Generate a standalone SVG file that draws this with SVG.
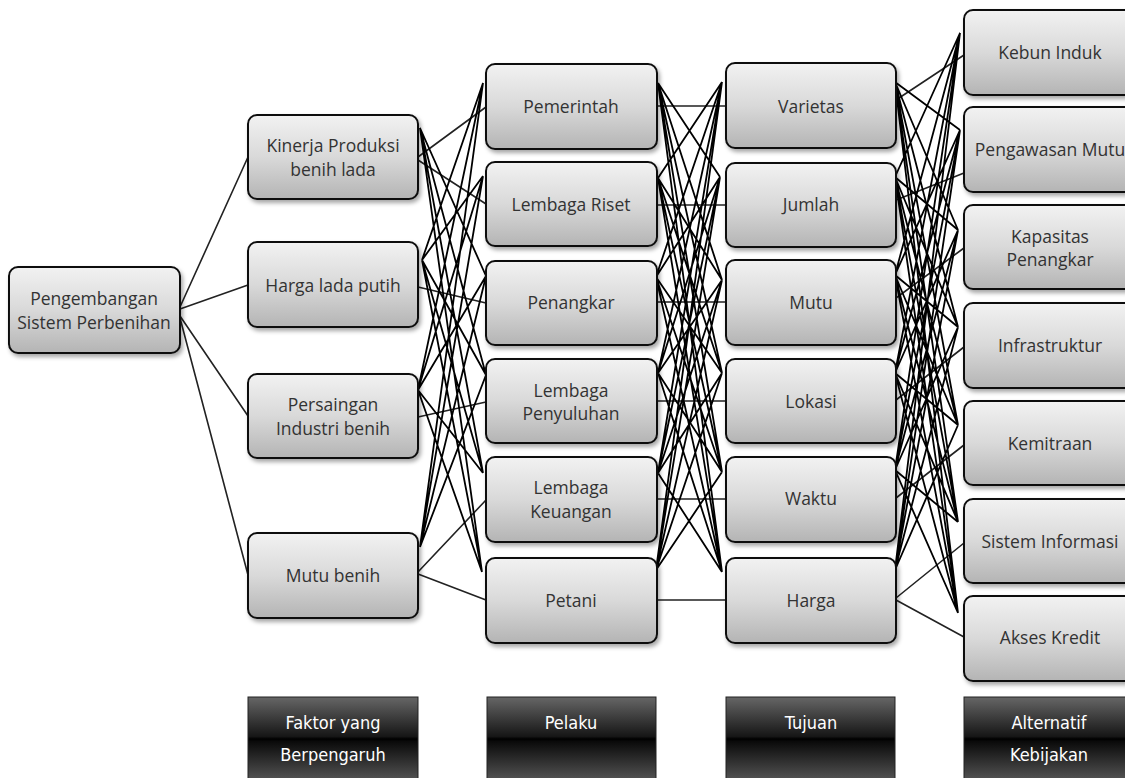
<svg xmlns="http://www.w3.org/2000/svg" width="1125" height="778" viewBox="0 0 1125 778">
<defs>
<linearGradient id="g" x1="0" y1="0" x2="0" y2="1">
<stop offset="0" stop-color="#f2f2f2"/>
<stop offset="0.5" stop-color="#d9d9d9"/>
<stop offset="1" stop-color="#b4b4b4"/>
</linearGradient>
<linearGradient id="hg" x1="0" y1="0" x2="0" y2="1">
<stop offset="0" stop-color="#666"/>
<stop offset="0.47" stop-color="#161616"/>
<stop offset="0.5" stop-color="#000"/>
<stop offset="0.53" stop-color="#0a0a0a"/>
<stop offset="1" stop-color="#555"/>
</linearGradient>
<filter id="sh" x="-10%" y="-10%" width="125%" height="130%">
<feDropShadow dx="2" dy="3" stdDeviation="2" flood-color="#000" flood-opacity="0.35"/>
</filter>
</defs>
<style>
.n rect{fill:url(#g);stroke:#111;stroke-width:2;filter:url(#sh)}
.n text{font-family:"Open Sans","Noto Sans",sans-serif;font-size:17.5px;fill:#333;text-anchor:middle;dominant-baseline:central}
.h rect{fill:url(#hg);stroke:#222;stroke-width:1}
.h text{font-family:"DejaVu Sans Condensed","DejaVu Sans",sans-serif;font-stretch:condensed;font-size:18px;fill:#fff;text-anchor:middle;dominant-baseline:central}
#connectors path{fill:none;stroke:#000;stroke-width:1.8}
#connectors .p{stroke:#222;stroke-width:1.6}
</style>
<rect width="1125" height="778" fill="#fff"/>
<g id="connectors">
<path class="p" d="M180,307L248,157M180,309L248,285M180,316L248,416M180,318L248,575"/>
<path class="p" d="M418,157L486,107M418,160L486,204M418,287L486,303M418,417L486,402M418,572L486,500M418,574L486,600"/>
<path d="M420,128L486,276M420,128L486,375M420,128L483,473M420,128L482,572
M422,260L483,83M422,260L483,176M422,260L486,375M422,260L483,473M422,260L482,572
M418,390L483,83M418,390L483,176M418,390L486,276M418,390L483,473M418,390L482,572
M420,547L483,83M420,547L483,176M420,547L486,276M420,547L486,375"/>
<path class="p" d="M657,106L726,106M657,205L726,205M657,302L726,302M657,401L726,401M657,499L726,499M657,600L726,600"/>
<path d="M658,83L720,177M658,83L722,280M658,83L722,373M658,83L722,472M658,83L722,572
M658,178L722,82M658,178L722,280M658,178L722,373M658,178L722,472M658,178L722,572
M656,277L722,82M656,277L720,177M656,277L722,373M656,277L722,472M656,277L722,572
M658,373L722,82M658,373L720,177M658,373L722,280M658,373L722,472M658,373L722,572
M658,473L722,82M658,473L720,177M658,473L722,280M658,473L722,373M658,473L722,572
M656,570L722,82M656,570L720,177M656,570L722,280M656,570L722,373M656,570L722,472"/>
<path class="p" d="M896,100L964,55M896,200L964,173M896,298L964,248M896,400L964,347M896,498L964,445M896,598L964,543M896,600L964,637"/>
<path d="M895,82L960,130M895,82L958,230M895,82L958,327M895,82L958,425M895,82L958,522M895,82L958,613
M895,177L960,33M895,177L958,230M895,177L958,327M895,177L958,425M895,177L958,522M895,177L958,613
M895,275L960,33M895,275L960,130M895,275L958,327M895,275L958,425M895,275L958,522M895,275L958,613
M895,373L960,33M895,373L960,130M895,373L958,230M895,373L958,425M895,373L958,522M895,373L958,613
M895,470L960,33M895,470L960,130M895,470L958,230M895,470L958,327M895,470L958,522M895,470L958,613
M895,570L960,33M895,570L960,130M895,570L958,230M895,570L958,327M895,570L958,425"/>
</g>
<g id="root" class="n"><rect x="9" y="267" width="171" height="86" rx="9"/><text x="94" y="298">Pengembangan</text><text x="94" y="322">Sistem Perbenihan</text></g>
<g id="f-kinerja" class="n"><rect x="248" y="115" width="170" height="84" rx="9"/><text x="333" y="145">Kinerja Produksi</text><text x="333" y="169">benih lada</text></g>
<g id="f-harga" class="n"><rect x="248" y="242" width="170" height="85" rx="9"/><text x="333" y="285">Harga lada putih</text></g>
<g id="f-persaingan" class="n"><rect x="248" y="374" width="170" height="84" rx="9"/><text x="333" y="404">Persaingan</text><text x="333" y="428">Industri benih</text></g>
<g id="f-mutu" class="n"><rect x="248" y="533" width="170" height="85" rx="9"/><text x="333" y="575">Mutu benih</text></g>
<g id="a-pemerintah" class="n"><rect x="486" y="64" width="171" height="85" rx="9"/><text x="571" y="106">Pemerintah</text></g>
<g id="a-riset" class="n"><rect x="486" y="162" width="171" height="84" rx="9"/><text x="571" y="204">Lembaga Riset</text></g>
<g id="a-penangkar" class="n"><rect x="486" y="261" width="171" height="84" rx="9"/><text x="571" y="302">Penangkar</text></g>
<g id="a-penyuluhan" class="n"><rect x="486" y="359" width="171" height="84" rx="9"/><text x="571" y="390">Lembaga</text><text x="571" y="413">Penyuluhan</text></g>
<g id="a-keuangan" class="n"><rect x="486" y="457" width="171" height="85" rx="9"/><text x="571" y="487">Lembaga</text><text x="571" y="511">Keuangan</text></g>
<g id="a-petani" class="n"><rect x="486" y="558" width="171" height="85" rx="9"/><text x="571" y="600">Petani</text></g>
<g id="t-varietas" class="n"><rect x="726" y="63" width="170" height="85" rx="9"/><text x="811" y="106">Varietas</text></g>
<g id="t-jumlah" class="n"><rect x="726" y="163" width="170" height="84" rx="9"/><text x="811" y="204">Jumlah</text></g>
<g id="t-mutu" class="n"><rect x="726" y="260" width="170" height="85" rx="9"/><text x="811" y="302">Mutu</text></g>
<g id="t-lokasi" class="n"><rect x="726" y="359" width="170" height="84" rx="9"/><text x="811" y="401">Lokasi</text></g>
<g id="t-waktu" class="n"><rect x="726" y="457" width="170" height="85" rx="9"/><text x="811" y="498">Waktu</text></g>
<g id="t-harga" class="n"><rect x="726" y="558" width="170" height="85" rx="9"/><text x="811" y="600">Harga</text></g>
<g id="k-kebun" class="n"><rect x="964" y="10" width="172" height="85" rx="9"/><text x="1050" y="52">Kebun Induk</text></g>
<g id="k-pengawasan" class="n"><rect x="964" y="107" width="172" height="85" rx="9"/><text x="1050" y="149">Pengawasan Mutu</text></g>
<g id="k-kapasitas" class="n"><rect x="964" y="205" width="172" height="84" rx="9"/><text x="1050" y="236">Kapasitas</text><text x="1050" y="259">Penangkar</text></g>
<g id="k-infrastruktur" class="n"><rect x="964" y="303" width="172" height="85" rx="9"/><text x="1050" y="345">Infrastruktur</text></g>
<g id="k-kemitraan" class="n"><rect x="964" y="401" width="172" height="84" rx="9"/><text x="1050" y="443">Kemitraan</text></g>
<g id="k-sistem" class="n"><rect x="964" y="499" width="172" height="84" rx="9"/><text x="1050" y="541">Sistem Informasi</text></g>
<g id="k-akses" class="n"><rect x="964" y="596" width="172" height="85" rx="9"/><text x="1050" y="637">Akses Kredit</text></g>
<g id="h-faktor" class="h"><rect x="248" y="697" width="170" height="84"/><text x="333" y="722">Faktor yang</text><text x="333" y="754">Berpengaruh</text></g>
<g id="h-pelaku" class="h"><rect x="487" y="697" width="169" height="84"/><text x="571" y="722">Pelaku</text></g>
<g id="h-tujuan" class="h"><rect x="726" y="697" width="169" height="84"/><text x="811" y="722">Tujuan</text></g>
<g id="h-alternatif" class="h"><rect x="964" y="697" width="170" height="84"/><text x="1049" y="722">Alternatif</text><text x="1049" y="754">Kebijakan</text></g>
</svg>
